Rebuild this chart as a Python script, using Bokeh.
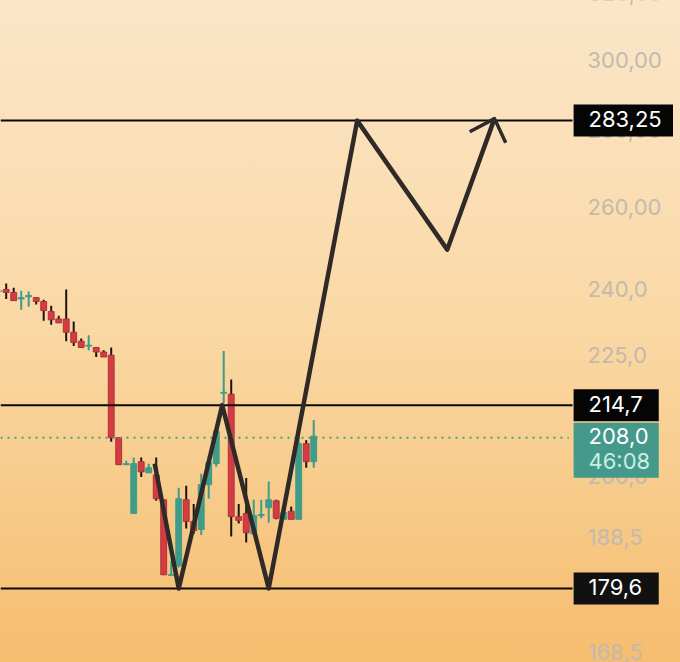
from bokeh.core.properties import value
from bokeh.embed import file_html
from bokeh.models import ColumnDataSource, FixedTicker, Label, LogAxis, LogScale, Range1d
from bokeh.plotting import figure
from bokeh.resources import INLINE

# candles (first one is cut by the left edge)
opens = [239.8, 240.3, 239.6, 238.1, 238.6, 238.4, 237.5, 235.2, 233.5, 233.5, 230.5, 228.5, 227.4,
         227.1, 226.1, 225.4, 208.0, 202.6, 193.2, 203.2, 201.0, 200.6, 195.8, 181.9, 183.6, 195.8,
         191.7, 190.2, 198.7, 202.8, 217.2, 217.0, 192.6, 193.2, 189.4, 192.8, 194.3, 195.6, 192.1,
         193.6, 192.1, 206.8, 203.2]
closes = [240.0, 239.6, 237.7, 238.4, 238.9, 237.5, 235.4, 233.3, 232.6, 230.5, 228.2, 227.1, 227.6,
          226.1, 225.0, 208.0, 202.6, 202.8, 202.8, 201.2, 202.0, 196.0, 182.0, 182.0, 196.0, 191.7,
          190.0, 198.7, 203.0, 209.3, 217.4, 192.6, 191.9, 189.6, 192.8, 193.0, 195.8, 192.3, 193.4,
          192.1, 206.8, 203.2, 208.3]
highs = [240.5, 241.7, 240.7, 240.0, 239.8, 238.4, 237.9, 236.5, 234.2, 240.3, 232.9, 229.1, 229.8,
         227.1, 226.5, 227.1, 208.0, 203.4, 204.0, 204.0, 202.8, 204.0, 195.8, 184.5, 198.1, 198.5,
         195.0, 200.8, 204.4, 209.3, 226.3, 220.1, 195.0, 200.0, 195.8, 195.8, 199.3, 195.8, 193.4,
         194.5, 208.9, 207.5, 211.6]
lows = [239.1, 238.1, 237.7, 235.6, 236.3, 236.8, 233.1, 232.2, 232.6, 228.5, 227.4, 227.1, 226.5,
        225.0, 225.0, 207.2, 202.6, 202.6, 193.2, 200.2, 201.0, 195.6, 182.0, 181.9, 183.3, 190.4,
        189.4, 189.2, 196.0, 202.2, 215.1, 188.9, 191.3, 187.8, 189.4, 192.3, 191.5, 192.1, 192.1,
        192.1, 192.1, 202.0, 202.0]
candle_index = list(range(-1, 42))

# hand drawn projection
path_x = [19.8, 23.0, 28.8, 35.0, 46.8, 58.8, 65.1]
path_y = [202.8, 179.6, 214.7, 179.6, 283.25, 249.8, 283.8]
arrow_x = [61.8, 65.1, 66.6]
arrow_y = [280.2, 283.8, 277.2]

levels = [283.25, 214.7, 179.6]
level_labels = ["283,25", "214,7", "179,6"]
last_price = 208.0
last_label = "208,0"
countdown = "46:08"

tick_values = [300, 280, 260, 240, 225, 200, 188.5, 168.5]
tick_labels = ["300,00", "280,00", "260,00", "240,0", "225,0", "200,0", "188,5", "168,5"]

RED = "#d63b44"
GREEN = "#3f9c89"
FONT = "Inter"
SCALE_X = 75.5  # where the price scale starts
TAG_RIGHT = 87.0
TAG_RIGHT_WIDE = 88.9
PX = 1.000974  # one pixel of the log price scale, as a factor
Y_START, Y_END = 167.1, 318.4

p = figure(width=680, height=662,
           x_range=Range1d(-0.76, 89.9),
           y_range=Range1d(Y_START, Y_END),
           y_axis_type="log",
           y_axis_location=None,
           x_axis_location=None,
           min_border_left=0, min_border_top=0, min_border_bottom=0, min_border_right=0,
           output_backend="svg", toolbar_location=None)
p.grid.visible = False
p.outline_line_color = None
p.background_fill_alpha = 0
p.border_fill_alpha = 0
p.styles = {"position": "fixed", "left": "0", "top": "0",
            "background": "linear-gradient(180deg, #fbe6c9 0%, #fad8a4 50%, #f5bd6f 100%)"}

# labels sit a bit high on the original scale, so the axis gets its own slightly shifted range
p.extra_y_ranges = {"scale": Range1d(Y_START / PX ** 2, Y_END / PX ** 2)}
p.extra_y_scales = {"scale": LogScale()}
axis = LogAxis(y_range_name="scale", fixed_location=SCALE_X)
axis.ticker = FixedTicker(ticks=tick_values)
axis.major_label_overrides = dict(zip(tick_values, tick_labels))
axis.axis_line_color = None
axis.major_tick_line_color = None
axis.minor_tick_line_color = None
axis.major_label_standoff = 9
axis.major_label_text_font = FONT
axis.major_label_text_font_size = "22px"
axis.major_label_text_color = "#c2baae"
p.add_layout(axis, "right")

source = ColumnDataSource(dict(
    x=candle_index, open=opens, close=closes, high=highs, low=lows,
    top=[max(o, c) for o, c in zip(opens, closes)],
    bottom=[min(o, c) for o, c in zip(opens, closes)],
    color=[GREEN if c >= o else RED for o, c in zip(opens, closes)],
    wick=[GREEN if c >= o else "#1c1410" for o, c in zip(opens, closes)],
    edge=[GREEN if c >= o else "#a8353a" for o, c in zip(opens, closes)],
))
p.segment(x0="x", x1="x", y0="low", y1="high", line_color="wick", line_width=2, source=source)
p.vbar(x="x", top="top", bottom="bottom", width=0.78, fill_color="color", line_color="edge",
       line_width=1, source=source)

p.segment(x0=-0.76, x1=SCALE_X - 0.5, y0=last_price, y1=last_price, line_color="#4f9a78", line_width=2,
          line_dash="2 5")
for level in levels:
    p.segment(x0=-0.76, x1=SCALE_X, y0=level, y1=level, line_color="#0c0805", line_width=2)

p.line(path_x, path_y, line_color="#2f2a27", line_width=4.5, line_join="round")
p.line(arrow_x, arrow_y, line_color="#2f2a27", line_width=3.5, line_join="round")

# top tick sits past the range, the axis would drop it
p.add_layout(Label(x=SCALE_X, y=320, text="320,00", x_offset=16, y_offset=2, text_baseline="middle",
                   text_font=FONT, text_font_size="22px", text_color="#c2baae"))


def tag(price, color, right=TAG_RIGHT, above=16, below=16):
    # the tags cover the axis labels, so they go above the guide level
    p.quad(left=SCALE_X + 0.15, right=right, top=price * PX ** above, bottom=price / PX ** below,
           fill_color=color, line_color=color, line_width=0, level="annotation")


def tag_text(price, text, color, y_offset=-1.5):
    p.text(x=[SCALE_X], y=[price], text=[text], x_offset=16, y_offset=y_offset, text_baseline="middle",
           text_font=value(FONT), text_font_size="22px", text_color=color, level="overlay")


tag(levels[0], "#050505", right=TAG_RIGHT_WIDE)
tag(levels[1], "#050505")
tag(levels[2], "#111111")
tag(last_price, "#45998a", above=15, below=40)
for level, text in zip(levels, level_labels):
    tag_text(level, text, "#ffffff")
tag_text(last_price, last_label, "#ffffff")
tag_text(last_price, countdown, "#c9efe4", y_offset=23)

open("out.html", "w").write(file_html(p, INLINE))
